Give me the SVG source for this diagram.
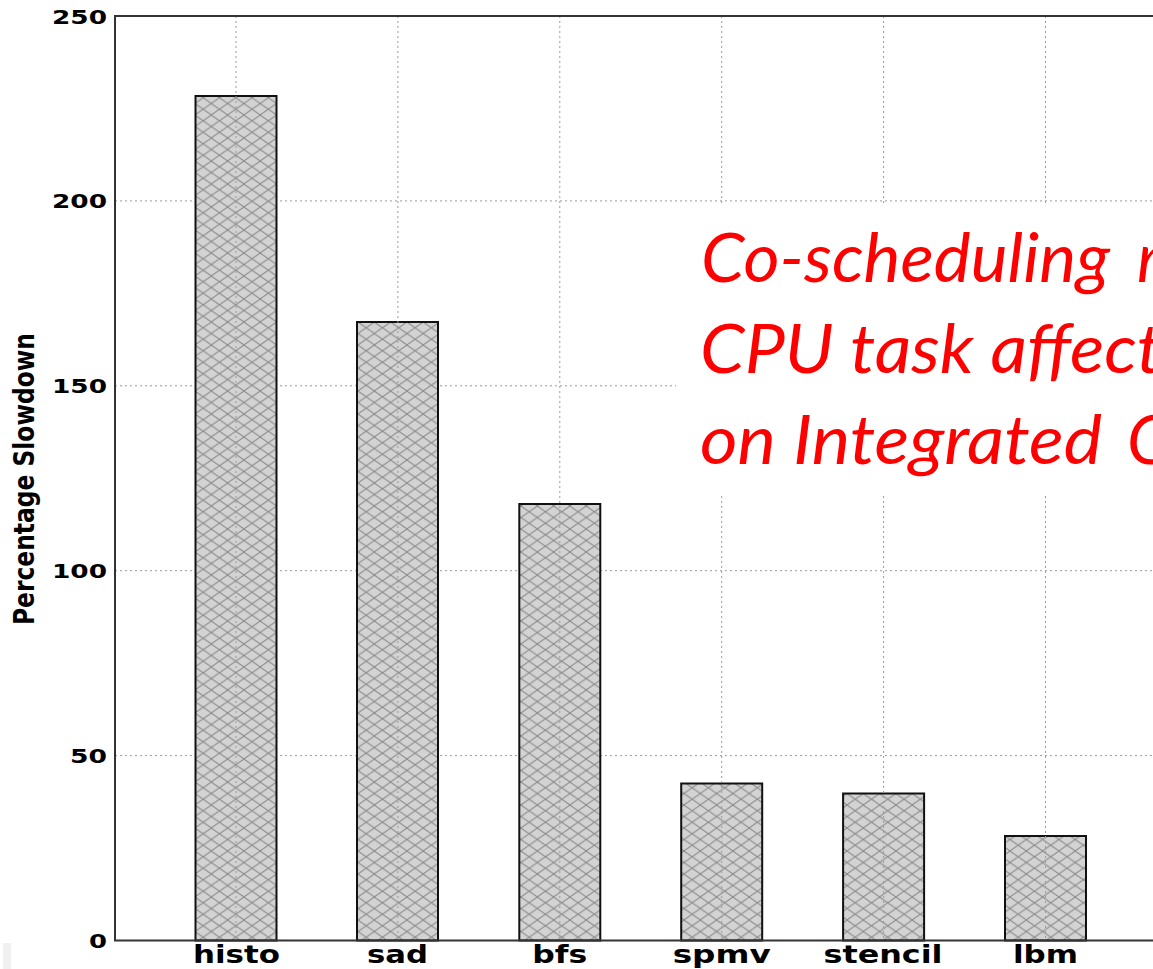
<svg xmlns="http://www.w3.org/2000/svg" width="1153" height="969" viewBox="0 0 1153 969">
  <style>
    .grid { stroke: #9a9a9a; stroke-width: 1; stroke-dasharray: 2 3; fill: none; }
    .spine { stroke: #333; stroke-width: 2; fill: none; }
    .bar { fill: url(#xhatch); stroke: #111; stroke-width: 2; }
    .tick { font-family: "DejaVu Sans", sans-serif; font-weight: bold; font-size: 20px; fill: #000; text-anchor: end; }
    .cat { font-family: "DejaVu Sans", sans-serif; font-weight: bold; font-size: 24px; fill: #000; text-anchor: middle; }
    .ylab { font-family: "DejaVu Sans Condensed", "DejaVu Sans", sans-serif; font-weight: bold; font-size: 28px; fill: #000; text-anchor: middle; }
    .note { font-family: "Lato", "Open Sans", sans-serif; font-style: italic; font-size: 67px; fill: #ff0000; }
  </style>
  <defs>
    <pattern id="xhatch" patternUnits="userSpaceOnUse" x="195" y="0" width="16.3" height="11.5">
      <rect width="16.3" height="11.5" fill="#d3d3d3"/>
      <path d="M0,0 L16.3,11.5 M0,11.5 L16.3,0" stroke="#8a8a8a" stroke-width="1"/>
    </pattern>
  </defs>

  <rect width="1153" height="969" fill="#fff"/>
  <rect x="3" y="943" width="8" height="26" fill="#f0f0f0"/>

  <!-- horizontal grid -->
  <g id="hgrid">
    <line class="grid" x1="115" y1="200.9" x2="1153" y2="200.9"/>
    <line class="grid" x1="115" y1="385.8" x2="1153" y2="385.8"/>
    <line class="grid" x1="115" y1="570.7" x2="1153" y2="570.7"/>
    <line class="grid" x1="115" y1="755.6" x2="1153" y2="755.6"/>
  </g>

  <!-- bars -->
  <g id="bar-histo"><rect class="bar" x="195.5" y="96" width="81" height="844.5"/></g>
  <g id="bar-sad"><rect class="bar" x="357" y="322" width="81" height="618.5"/></g>
  <g id="bar-bfs"><rect class="bar" x="519.3" y="504" width="81" height="436.5"/></g>
  <g id="bar-spmv"><rect class="bar" x="681.2" y="783.5" width="81" height="157"/></g>
  <g id="bar-stencil"><rect class="bar" x="843.1" y="793.5" width="81" height="147"/></g>
  <g id="bar-lbm"><rect class="bar" x="1005" y="836" width="81" height="104.5"/></g>

  <!-- vertical grid -->
  <g id="vgrid">
    <line class="grid" x1="236" y1="16" x2="236" y2="940"/>
    <line class="grid" x1="397.9" y1="16" x2="397.9" y2="940"/>
    <line class="grid" x1="559.8" y1="16" x2="559.8" y2="940"/>
    <line class="grid" x1="721.7" y1="16" x2="721.7" y2="940"/>
    <line class="grid" x1="883.6" y1="16" x2="883.6" y2="940"/>
    <line class="grid" x1="1045.5" y1="16" x2="1045.5" y2="940"/>
  </g>

  <!-- annotation box -->
  <g id="note">
    <rect x="676" y="203" width="477" height="291" fill="#fff"/>
    <text class="note" y="282"><tspan x="701" textLength="409" lengthAdjust="spacingAndGlyphs">Co-scheduling</tspan><tspan x="1137">m</tspan></text>
    <text class="note" x="700" y="373" textLength="462" lengthAdjust="spacingAndGlyphs">CPU task affect</text>
    <text class="note" y="464"><tspan x="700" textLength="402" lengthAdjust="spacingAndGlyphs">on Integrated</tspan><tspan x="1127">G</tspan></text>
  </g>

  <!-- axes frame -->
  <g id="axes">
    <line class="spine" x1="115" y1="16" x2="1153" y2="16"/>
    <line class="spine" x1="115" y1="15" x2="115" y2="941"/>
    <line class="spine" x1="114" y1="940.5" x2="1153" y2="940.5"/>
  </g>

  <!-- y tick labels -->
  <g id="yticks">
    <text class="tick" x="107" y="23.5" textLength="55" lengthAdjust="spacingAndGlyphs">250</text>
    <text class="tick" x="107" y="208.4" textLength="55" lengthAdjust="spacingAndGlyphs">200</text>
    <text class="tick" x="107" y="393.3" textLength="55" lengthAdjust="spacingAndGlyphs">150</text>
    <text class="tick" x="107" y="578.2" textLength="55" lengthAdjust="spacingAndGlyphs">100</text>
    <text class="tick" x="107" y="763.1" textLength="37" lengthAdjust="spacingAndGlyphs">50</text>
    <text class="tick" x="107" y="948" textLength="18" lengthAdjust="spacingAndGlyphs">0</text>
  </g>

  <!-- category labels -->
  <g id="xticks">
    <text class="cat" x="236.5" y="963" textLength="87" lengthAdjust="spacingAndGlyphs">histo</text>
    <text class="cat" x="397.5" y="963" textLength="61" lengthAdjust="spacingAndGlyphs">sad</text>
    <text class="cat" x="559.8" y="963" textLength="55" lengthAdjust="spacingAndGlyphs">bfs</text>
    <text class="cat" x="721.7" y="963" textLength="98" lengthAdjust="spacingAndGlyphs">spmv</text>
    <text class="cat" x="883" y="963" textLength="119" lengthAdjust="spacingAndGlyphs">stencil</text>
    <text class="cat" x="1045.5" y="963" textLength="65" lengthAdjust="spacingAndGlyphs">lbm</text>
  </g>

  <g id="ylabel">
    <text class="ylab" transform="translate(34,479) rotate(-90)" textLength="292" lengthAdjust="spacingAndGlyphs">Percentage Slowdown</text>
  </g>
</svg>
